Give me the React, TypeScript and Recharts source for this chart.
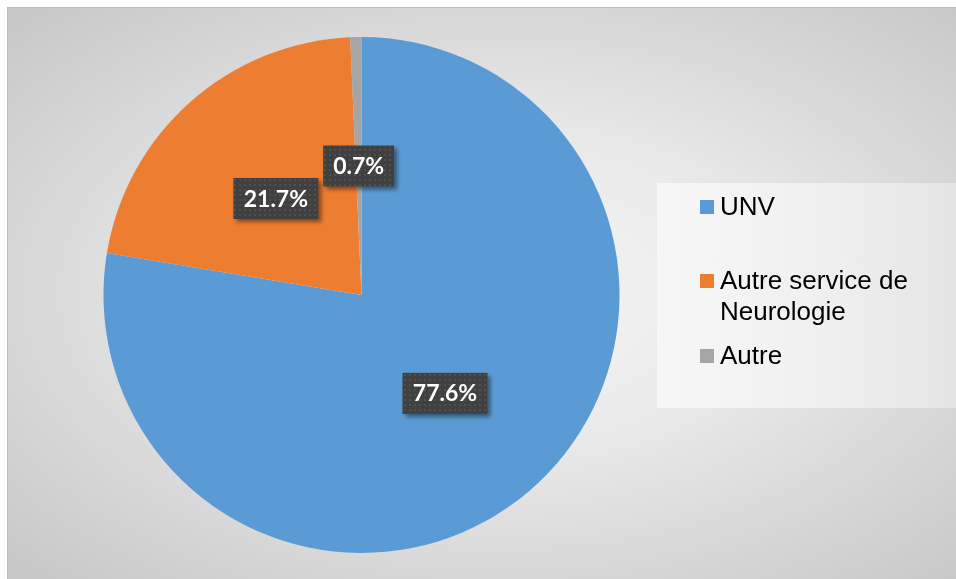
import React from 'react';
import { PieChart, Pie, Cell, Legend } from 'recharts';

// values
const categories = ['UNV', 'Autre service de Neurologie', 'Autre'];
const shares = [77.6, 21.7, 0.7];
const sliceColors = ['#5B9BD5', '#ED7D31', '#A5A5A5'];

const data = categories.map((name, i) => ({ name, value: shares[i] }));

const RADIAN = Math.PI / 180;

// legend item row tops inside the legend box (px)
const legendRowTops = [7.5, 81.5, 156.5];

const renderLabel = (props: any) => {
  const { cx, cy, midAngle, outerRadius, value, index } = props;
  const r = outerRadius * 0.5;
  const x = cx + r * Math.cos(-midAngle * RADIAN);
  const y = cy + r * Math.sin(-midAngle * RADIAN);
  const text = `${Number(value).toFixed(1)}%`;
  const w = 14 * text.length + 15;
  const h = 41;
  return (
    <g key={`lbl-${index}`}>
      <rect
        x={x - w / 2}
        y={y - h / 2}
        width={w}
        height={h}
        fill="url(#dots)"
        filter="url(#lblShadow)"
      />
      <text
        x={x}
        y={y + 8}
        textAnchor="middle"
        fill="#ffffff"
        fontFamily="Lato, 'Open Sans', sans-serif"
        fontWeight={700}
        fontSize={23}
      >
        {text}
      </text>
    </g>
  );
};

const renderLegend = (props: any) => {
  const items = [...(props.payload || [])].sort(
    (a: any, b: any) => categories.indexOf(a.value) - categories.indexOf(b.value)
  );
  return (
    <div
      style={{
        position: 'relative',
        width: 299,
        height: 225,
        background: 'linear-gradient(to right, #f7f7f7 0%, #efefef 60%, #e4e4e4 100%)',
        fontFamily: "'Liberation Sans', Arial, sans-serif",
        fontSize: 26,
        lineHeight: '31px',
        color: '#000',
      }}
    >
      {items.map((entry: any, i: number) => (
        <div key={entry.value} style={{ position: 'absolute', left: 43, top: legendRowTops[i] }}>
          <div
            style={{
              position: 'absolute',
              left: 0,
              top: 9,
              width: 14,
              height: 14,
              background: entry.color,
            }}
          />
          <div style={{ position: 'absolute', left: 20, top: 0, width: 220 }}>{entry.value}</div>
        </div>
      ))}
    </div>
  );
};

export default function App() {
  return (
    <div
      style={{
        position: 'fixed',
        left: 7,
        top: 7,
        width: 948,
        height: 571,
        borderTop: '1px solid #bdbdbd',
        borderLeft: '1px solid #bdbdbd',
        background:
          'radial-gradient(ellipse farthest-corner at 52% 50%, #f5f5f5 0%, #ebebeb 35%, #c6c6c6 100%)',
      }}
    >
      <PieChart width={948} height={571} margin={{ top: 0, right: 0, bottom: 0, left: 0 }}>
        <defs>
          <pattern id="dots" width={5} height={5} patternUnits="userSpaceOnUse">
            <rect width={5} height={5} fill="#3f3f3f" />
            <rect x={1} y={1} width={2} height={2} fill="#4f4f4f" />
          </pattern>
          <filter id="lblShadow" x="-20%" y="-20%" width="150%" height="160%">
            <feDropShadow dx={3} dy={3} stdDeviation={2} floodColor="#000" floodOpacity={0.45} />
          </filter>
        </defs>
        <Pie
          data={data}
          dataKey="value"
          nameKey="name"
          cx={353.5}
          cy={287}
          outerRadius={258}
          startAngle={90}
          endAngle={-270}
          stroke="none"
          label={renderLabel}
          labelLine={false}
          isAnimationActive={false}
        >
          {data.map((d, i) => (
            <Cell key={d.name} fill={sliceColors[i]} />
          ))}
        </Pie>
        <Legend
          layout="vertical"
          align="right"
          verticalAlign="top"
          content={renderLegend}
          wrapperStyle={{ left: 649, top: 175, width: 299, height: 225 }}
        />
      </PieChart>
    </div>
  );
}
